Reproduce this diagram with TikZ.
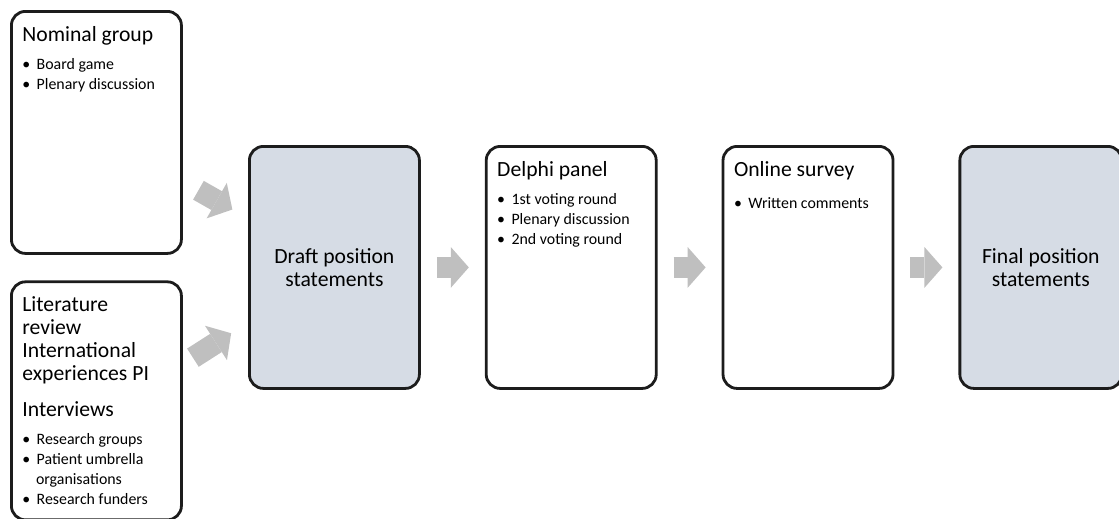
\documentclass[tikz,border=0pt]{standalone}
\usepackage{fontspec}
\setmainfont{Carlito}
\usetikzlibrary{arrows.meta, positioning}
\definecolor{panelblue}{HTML}{D6DCE5}
\definecolor{arrowgray}{HTML}{BFBFBF}
\definecolor{inkblack}{HTML}{1C1C1C}
\newcommand{\headfont}{\fontsize{15.4}{16.2}\selectfont}
\newcommand{\itemfont}{\fontsize{11.3}{14.2}\selectfont}
\newenvironment{dotlist}{\itemfont\begin{list}{\textbullet}{%
    \setlength{\leftmargin}{0.34cm}\setlength{\labelwidth}{0.18cm}%
    \setlength{\labelsep}{0.16cm}\setlength{\itemsep}{0pt}%
    \setlength{\parsep}{0pt}\setlength{\topsep}{5.5pt}\setlength{\partopsep}{0pt}}}%
  {\end{list}}
\newcommand{\boxtext}[2][5.3cm]{\begin{minipage}[c][#1][t]{3.7cm}#2\end{minipage}}

\begin{document}
\begin{tikzpicture}[
    font=\headfont,
    stepbox/.style={draw=inkblack, fill=white, line width=2pt, rounded corners=0.35cm,
                    minimum width=4.25cm, minimum height=6.05cm, inner sep=0pt},
    keybox/.style={stepbox, fill=panelblue, align=center},
    flow/.style={draw=arrowgray, line width=0.54cm,
                 -{Triangle[width=1.02cm, length=0.45cm, line width=0pt]},
                 shorten <=0.4cm, shorten >=0.4cm}
]
  \useasboundingbox (0,0) rectangle (27.975,-12.95);

  % Column 1: inputs
  \node[stepbox, anchor=north west] (nom) at (0.25,-0.25) {\boxtext{%
    {\headfont Nominal group\par}
    \begin{dotlist}
      \item Board game
      \item Plenary discussion
    \end{dotlist}}};
  \node[stepbox, minimum height=5.95cm, below=0.64cm of nom] (lit) {\boxtext[5.2cm]{%
    {\headfont Literature\\review\\International\\experiences PI\par}
    \vspace{10pt}
    {\headfont Interviews\par}
    \begin{dotlist}
      \item Research groups
      \item Patient umbrella\\organisations
      \item Research funders
    \end{dotlist}}};

  % Column 2: draft
  \node[keybox, anchor=north west] (draft) at (6.2,-3.625) {Draft position\\statements};

  % Columns 3 and 4: consultation rounds
  \node[stepbox, right=1.6cm of draft] (delphi) {\boxtext{%
    {\headfont Delphi panel\par}
    \begin{dotlist}
      \item 1st voting round
      \item Plenary discussion
      \item 2nd voting round
    \end{dotlist}}};
  \node[stepbox, right=1.6cm of delphi] (survey) {\boxtext{%
    {\headfont Online survey\par}
    \vspace{3pt}
    \begin{dotlist}
      \item Written comments
    \end{dotlist}}};

  % Column 5: result
  \node[keybox, minimum width=4.05cm, right=1.6cm of survey] (final) {Final position\\statements};

  % Flow arrows
  \draw[flow, shorten <=0.45cm, shorten >=0.45cm] (nom) -- (draft);
  \draw[flow, shorten <=0.3cm, shorten >=0.5cm] (lit.23) -- (draft);
  \draw[flow] (draft) -- (delphi);
  \draw[flow] (delphi) -- (survey);
  \draw[flow] (survey) -- (final);
\end{tikzpicture}
\end{document}
